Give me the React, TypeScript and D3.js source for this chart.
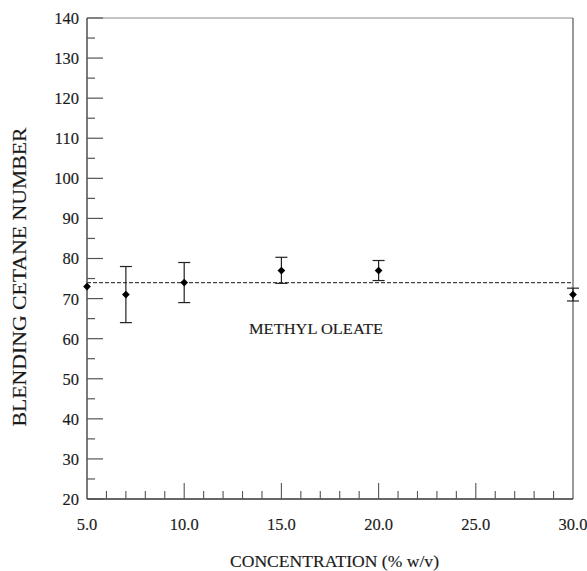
import React from 'react';
import * as d3 from 'd3';

// data
const concentrations = [5, 7, 10, 15, 20, 30];
const cetaneNumbers = [73, 71, 74, 77, 77, 71];
const errorHigh = [73, 78, 79, 80.3, 79.5, 72.6];
const errorLow = [73, 64, 69, 73.8, 74.5, 69.4];
const meanCetane = 74;
const xMajorTicks = [5, 10, 15, 20, 25, 30];
const yMajorTicks = [20, 30, 40, 50, 60, 70, 80, 90, 100, 110, 120, 130, 140];
const seriesLabel = 'METHYL OLEATE';
const xTitle = 'CONCENTRATION (% w/v)';
const yTitle = 'BLENDING CETANE NUMBER';

const W = 587;
const H = 571;
const FONT = "'Liberation Serif', 'Times New Roman', Times, serif";

const App = () => {
  const x = d3.scaleLinear().domain([5, 30]).range([87, 573]);
  const y = d3.scaleLinear().domain([20, 140]).range([499, 18]);

  const xMinor = x.ticks(25).filter(t => !xMajorTicks.includes(t));
  const yMinor = y.ticks(24).filter(t => !yMajorTicks.includes(t));
  const fmt = d3.format('.1f');
  const diamond = d3.symbol(d3.symbolSquare, 30)();
  const [x0, x1] = x.range();
  const [y0, y1] = y.range();
  // scanned look: slightly heavier glyphs
  const txt = { fontFamily: FONT, fill: '#1a1a1a', stroke: '#1a1a1a', strokeWidth: 0.15 };

  return (
    <svg width={W} height={H} style={{ position: 'absolute', left: 0, top: 0, background: '#fff', fontFamily: FONT }}>
      {/* frame */}
      <line x1={x0} x2={x1} y1={y1} y2={y1} stroke="#8a8a8a" strokeWidth={1} />
      <line x1={x1} x2={x1} y1={y1} y2={y0} stroke="#555" strokeWidth={1.2} />
      <line x1={x0} x2={x0} y1={y1} y2={y0} stroke="#333" strokeWidth={1.3} />
      <line x1={x0} x2={x1} y1={y0} y2={y0} stroke="#333" strokeWidth={1.3} />

      {/* y ticks */}
      {yMajorTicks.map(t => (
        <g key={'ym' + t}>
          <line x1={x0} x2={x0 + 16} y1={y(t)} y2={y(t)} stroke="#555" strokeWidth={1.2} />
          <text x={79} y={y(t)} dy="0.36em" textAnchor="end" fontSize={16.5} style={txt}>{t}</text>
        </g>
      ))}
      {yMinor.map(t => (
        <line key={'yn' + t} x1={x0} x2={x0 + 8} y1={y(t)} y2={y(t)} stroke="#555" strokeWidth={1.2} />
      ))}

      {/* x ticks */}
      {xMajorTicks.map(t => (
        <g key={'xm' + t}>
          {t !== 5 && t !== 30 && (
            <line x1={x(t)} x2={x(t)} y1={y0} y2={y0 - 16} stroke="#555" strokeWidth={1.1} />
          )}
          <text x={x(t)} y={530} textAnchor="middle" fontSize={16.5} style={txt}>{fmt(t)}</text>
        </g>
      ))}
      {xMinor.map(t => (
        <line key={'xn' + t} x1={x(t)} x2={x(t)} y1={y0} y2={y0 - 8} stroke="#555" strokeWidth={1.1} />
      ))}

      {/* mean line */}
      <line x1={x0} x2={x1} y1={y(meanCetane)} y2={y(meanCetane)} stroke="#444"
        strokeWidth={1.3} strokeDasharray="4,2" />

      {/* error bars + points */}
      {concentrations.map((c, i) => (
        <g key={'p' + c}>
          {errorHigh[i] !== errorLow[i] && (
            <g stroke="#222" strokeWidth={1.2}>
              <line x1={x(c)} x2={x(c)} y1={y(errorHigh[i])} y2={y(errorLow[i])} />
              <line x1={x(c) - 6} x2={x(c) + 6} y1={y(errorHigh[i])} y2={y(errorHigh[i])} />
              <line x1={x(c) - 6} x2={x(c) + 6} y1={y(errorLow[i])} y2={y(errorLow[i])} />
            </g>
          )}
          <path d={diamond} transform={`translate(${x(c)},${y(cetaneNumbers[i])}) rotate(45)`} fill="#000" />
        </g>
      ))}

      <text x={249} y={334} fontSize={15.5} style={txt} textLength={134} lengthAdjust="spacingAndGlyphs">{seriesLabel}</text>

      <text x={334.5} y={567} textAnchor="middle" fontSize={16.5} style={txt}
        textLength={209} lengthAdjust="spacingAndGlyphs">{xTitle}</text>

      <text transform={`translate(26,${277}) rotate(-90)`} textAnchor="middle" fontSize={19} style={txt}
        textLength={299} lengthAdjust="spacingAndGlyphs">{yTitle}</text>
    </svg>
  );
};

export default App;
